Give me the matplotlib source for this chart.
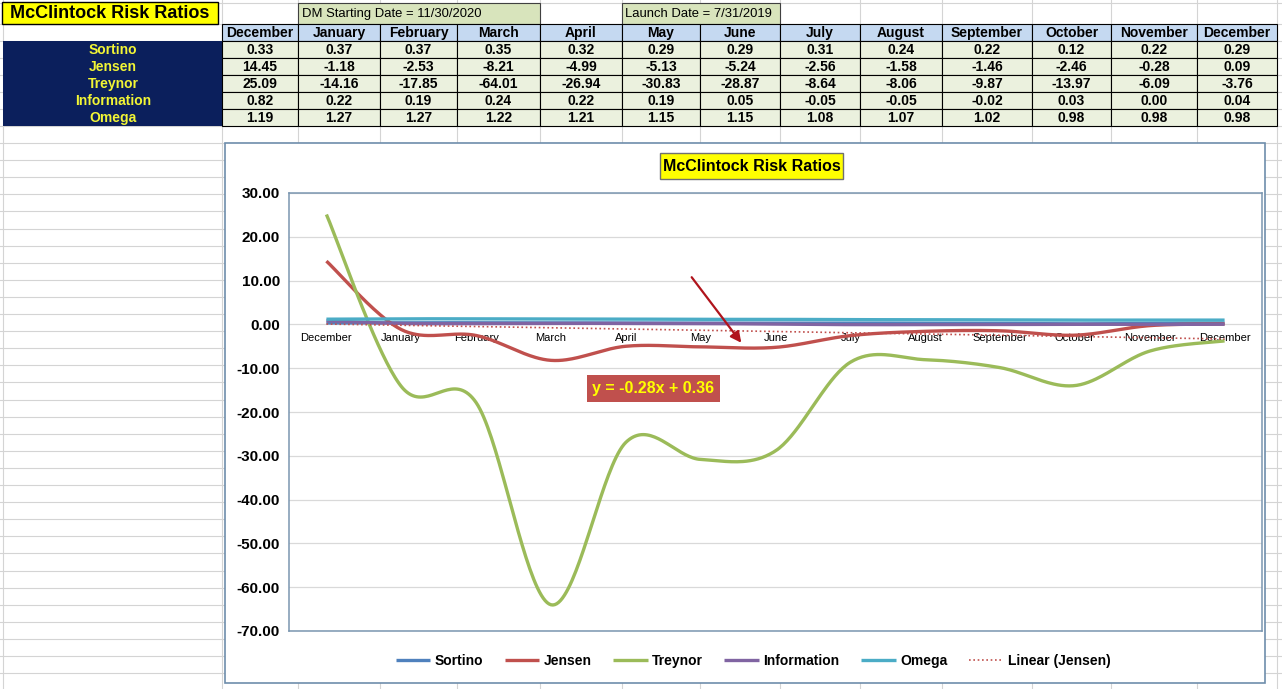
import numpy as np
import matplotlib
matplotlib.use("Agg")
import matplotlib.pyplot as plt
from matplotlib import font_manager as fm
from matplotlib.patches import Rectangle
from matplotlib.lines import Line2D

# table / chart values
months = ['December', 'January', 'February', 'March', 'April', 'May', 'June',
          'July', 'August', 'September', 'October', 'November', 'December']
sortino = [0.33, 0.37, 0.37, 0.35, 0.32, 0.29, 0.29, 0.31, 0.24, 0.22, 0.12, 0.22, 0.29]
jensen = [14.45, -1.18, -2.53, -8.21, -4.99, -5.13, -5.24, -2.56, -1.58, -1.46, -2.46, -0.28, 0.09]
treynor = [25.09, -14.16, -17.85, -64.01, -26.94, -30.83, -28.87, -8.64, -8.06, -9.87, -13.97, -6.09, -3.76]
information = [0.82, 0.22, 0.19, 0.24, 0.22, 0.19, 0.05, -0.05, -0.05, -0.02, 0.03, 0.00, 0.04]
omega = [1.19, 1.27, 1.27, 1.22, 1.21, 1.15, 1.15, 1.08, 1.07, 1.02, 0.98, 0.98, 0.98]

ratio_names = ['Sortino', 'Jensen', 'Treynor', 'Information', 'Omega']
ratio_values = [sortino, jensen, treynor, information, omega]
ratio_colors = ['#4F81BD', '#C0504D', '#9BBB59', '#8064A2', '#4BACC6']

title = 'McClintock Risk Ratios'
dm_date = 'DM Starting Date = 11/30/2020'
launch_date = 'Launch Date = 7/31/2019'
trend_label = 'y = -0.28x + 0.36'


def pick(names):
    for n in names:
        try:
            fm.findfont(fm.FontProperties(family=n), fallback_to_default=False)
            return n
        except Exception:
            pass
    return 'DejaVu Sans'


narrow = pick(['Liberation Sans Narrow', 'Arial Narrow'])
has_narrow = narrow != 'DejaVu Sans'
if not has_narrow:
    narrow = pick(['Liberation Sans'])
sans = pick(['Liberation Sans', 'Arial'])
tsize = 11 if has_narrow else 10
dsize = 10.5 if has_narrow else 9.4


def smooth(y, n=40):
    # excel style smoothed line (bezier through the points)
    y = np.asarray(y, float)
    x = np.arange(len(y), dtype=float)
    px_ = np.concatenate([[x[0]], x, [x[-1]]])
    py_ = np.concatenate([[y[0]], y, [y[-1]]])
    t = np.linspace(0, 1, n)
    xs, ys = [], []
    for i in range(len(y) - 1):
        out = []
        for p in (px_, py_):
            p0, p1, p2, p3 = p[i], p[i + 1], p[i + 2], p[i + 3]
            c1 = p1 + (p2 - p0) / 6
            c2 = p2 - (p3 - p1) / 6
            out.append((1 - t) ** 3 * p1 + 3 * (1 - t) ** 2 * t * c1
                       + 3 * (1 - t) * t ** 2 * c2 + t ** 3 * p2)
        xs.append(out[0])
        ys.append(out[1])
    return np.concatenate(xs), np.concatenate(ys)


W, H = 1282, 689
fig = plt.figure(figsize=(W / 100, H / 100), dpi=100)
fig.patch.set_facecolor('white')

# background "spreadsheet" in pixel coordinates
bg = fig.add_axes([0, 0, 1, 1])
bg.set_xlim(0, W)
bg.set_ylim(H, 0)
bg.axis('off')

cols = [3, 222, 298, 380, 457, 540, 622, 700, 780, 860, 942, 1032, 1111, 1197, 1277]
rows = [3, 24, 41, 58, 75, 92, 109, 126] + list(np.arange(143.1, H, 17.1))
grid_c = '#D4D4D4'
for c in cols:
    bg.add_line(Line2D([c, c], [0, H], color=grid_c, lw=0.8, zorder=1))
for r in rows:
    bg.add_line(Line2D([0, W], [r, r], color=grid_c, lw=0.8, zorder=1))

# title cells
bg.add_patch(Rectangle((2, 2), 216, 22, facecolor='#FFFF00', edgecolor='black', lw=1, zorder=3))
bg.text(110, 13.5, title, ha='center', va='center', fontsize=13, fontweight='bold',
        family=sans, zorder=4)
bg.add_patch(Rectangle((298, 3), 242, 21, facecolor='#D8E4BC', edgecolor='#404040', lw=0.8, zorder=3))
bg.text(302, 14, dm_date, ha='left', va='center', fontsize=dsize, family=narrow, zorder=4)
bg.add_patch(Rectangle((622, 3), 158, 21, facecolor='#D8E4BC', edgecolor='#404040', lw=0.8, zorder=3))
bg.text(625, 14, launch_date, ha='left', va='center', fontsize=dsize, family=narrow, zorder=4)

# header row
for j, m in enumerate(months):
    x0, x1 = cols[j + 1], cols[j + 2]
    bg.add_patch(Rectangle((x0, 24), x1 - x0, 17, facecolor='#C5D9F1', edgecolor='black',
                           lw=0.8, zorder=3))
    bg.text((x0 + x1) / 2, 33, m, ha='center', va='center', fontsize=tsize,
            fontweight='bold', family=narrow, zorder=4)

# row labels + values
bg.add_patch(Rectangle((3, 41), 219, 85, facecolor='#0B1F5C', edgecolor='none', zorder=3))
for i, (name, vals) in enumerate(zip(ratio_names, ratio_values)):
    y0 = 41 + 17 * i
    bg.text(113, y0 + 8.8, name, ha='center', va='center', fontsize=tsize,
            fontweight='bold', color='#F2F535', family=narrow, zorder=4)
    for j, v in enumerate(vals):
        x0, x1 = cols[j + 1], cols[j + 2]
        bg.add_patch(Rectangle((x0, y0), x1 - x0, 17, facecolor='#EBF1DE', edgecolor='black',
                               lw=0.8, zorder=3))
        bg.text((x0 + x1) / 2, y0 + 8.8, f'{v:.2f}', ha='center', va='center', fontsize=tsize,
                fontweight='bold', family=narrow, zorder=4)

# chart frame
bg.add_patch(Rectangle((225, 143), 1040, 540, facecolor='white', edgecolor='#6E8DAB',
                       lw=1.2, zorder=5))

# plot area
ax = fig.add_axes([289 / W, (H - 631) / H, (1262 - 289) / W, (631 - 193) / H])
ax.set_facecolor('none')
ax.set_zorder(6)
ax.set_xlim(-0.5, len(months) - 0.5)
ax.set_ylim(-70, 30)
ax.set_yticks(np.arange(-70, 31, 10))
ax.set_yticklabels([f'{v:.2f}' for v in np.arange(-70, 31, 10)], fontsize=11,
                   fontweight='bold', family=sans)
ax.tick_params(axis='y', length=0, pad=6.5)
ax.set_xticks([])
ax.grid(axis='y', color='#D9D9D9', lw=0.9)
ax.set_axisbelow(True)
for s in ax.spines.values():
    s.set_color('#7A96B0')
    s.set_linewidth(1.1)

for i, m in enumerate(months):
    ax.annotate(m, xy=(i, 0), xytext=(0, -6), textcoords='offset points', ha='center',
                va='top', fontsize=8, family=sans, zorder=3)

handles = []
for name, vals, col in zip(ratio_names, ratio_values, ratio_colors):
    xs, ys = smooth(vals)
    h, = ax.plot(xs, ys, color=col, lw=2.4, solid_capstyle='butt', label=name, zorder=4)
    handles.append(h)

# linear trend of Jensen
xpos = np.arange(1, len(jensen) + 1)
coef = np.polyfit(xpos, jensen, 1)
h, = ax.plot(xpos - 1, np.polyval(coef, xpos), color='#C0504D', lw=1.2,
             linestyle=(0, (1, 1.6)), label='Linear (Jensen)', zorder=5)
handles.append(h)

leg = ax.legend(handles=handles, loc='center', bbox_to_anchor=(753 / W, 1 - 661 / H),
                bbox_transform=fig.transFigure, ncol=6, frameon=False,
                prop=dict(family=sans, weight='bold', size=10), handlelength=2.5,
                handletextpad=0.3, columnspacing=1.55)

# overlay: title, equation, arrow
ov = fig.add_axes([0, 0, 1, 1])
ov.set_xlim(0, W)
ov.set_ylim(H, 0)
ov.axis('off')
ov.set_zorder(7)
ov.patch.set_alpha(0)
ov.add_patch(Rectangle((660, 153), 183, 26, facecolor='#FFFF00', edgecolor='#707070', lw=1))
ov.text(751.5, 166.5, title, ha='center', va='center', fontsize=11.5, fontweight='bold',
        family=sans)
ov.add_patch(Rectangle((587, 375), 133, 27, facecolor='#C0504D', edgecolor='none'))
ov.text(653.5, 389, trend_label, ha='center', va='center', fontsize=11.5, fontweight='bold',
        color='#FFFF00', family=sans)
ov.annotate('', xy=(743, 345), xytext=(690, 275),
            arrowprops=dict(arrowstyle='-|>', color='#B0141C', lw=1.6, mutation_scale=16))

fig.savefig('out.png', dpi=100)
